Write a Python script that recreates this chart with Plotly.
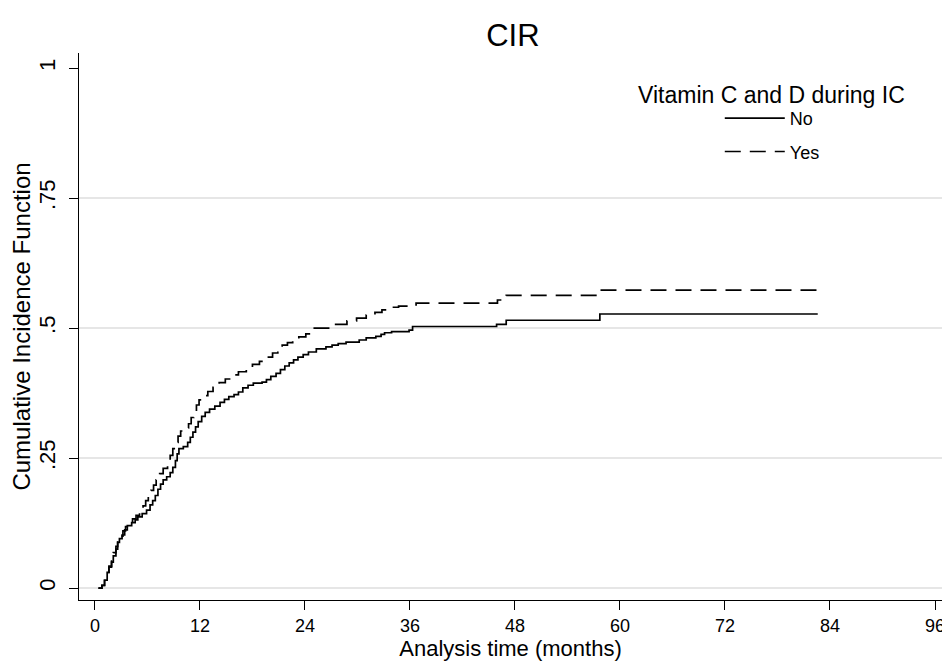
import plotly.graph_objects as go

# ---- data ----
no_time = [0.4, 0.8, 1.1, 1.4, 1.6, 1.9, 2.1, 2.4, 2.6, 2.8, 3.1, 3.4, 3.7, 4.2, 4.6, 4.9,
           5.4, 5.9, 6.3, 6.6, 6.9, 7.2, 7.5, 7.8, 8.2, 8.6, 8.9, 9.2, 9.4, 9.6, 10.1,
           10.6, 10.9, 11.2, 11.5, 11.8, 12.2, 12.6, 13.1, 13.7, 14.3, 14.8, 15.3, 15.9,
           16.4, 16.9, 17.5, 18.1, 19.1, 19.6, 20.1, 20.7, 21.2, 21.7, 22.2, 22.7, 23.2,
           23.8, 24.4, 25.3, 26.4, 27.1, 27.8, 28.7, 30.2, 31.0, 32.1, 32.7, 33.1, 33.9,
           35.9, 36.3, 45.9, 47.0, 57.7, 82.6]
no_cif = [0.0, 0.005, 0.015, 0.03, 0.04, 0.05, 0.062, 0.075, 0.088, 0.095, 0.102, 0.112,
          0.12, 0.126, 0.131, 0.137, 0.143, 0.15, 0.16, 0.168, 0.178, 0.19, 0.2, 0.208,
          0.214, 0.222, 0.232, 0.245, 0.258, 0.268, 0.272, 0.28, 0.29, 0.3, 0.31, 0.32,
          0.33, 0.338, 0.344, 0.35, 0.357, 0.363, 0.368, 0.372, 0.377, 0.385, 0.39, 0.394,
          0.396, 0.401, 0.407, 0.413, 0.42, 0.427, 0.433, 0.439, 0.444, 0.449, 0.454,
          0.46, 0.464, 0.467, 0.47, 0.473, 0.477, 0.481, 0.484, 0.488, 0.491, 0.493,
          0.496, 0.503, 0.507, 0.515, 0.527, 0.527]

yes_time = [0.4, 0.8, 1.1, 1.4, 1.6, 1.9, 2.1, 2.4, 2.6, 2.9, 3.2, 3.5, 3.8, 4.3, 4.7, 5.1,
            5.5, 5.8, 6.1, 6.4, 6.7, 7.0, 7.4, 7.8, 8.3, 8.6, 8.9, 9.2, 9.5, 9.8, 10.3,
            10.7, 11.0, 11.3, 11.6, 11.9, 12.4, 12.9, 13.5, 14.2, 14.9, 15.6, 16.4, 17.3,
            18.0, 18.8, 19.6, 20.3, 20.9, 21.4, 22.0, 22.6, 23.3, 24.1, 24.8, 26.8, 28.8,
            29.9, 31.0, 32.0, 32.8, 33.6, 34.7, 36.7, 46.0, 47.0, 57.7, 82.6]
yes_cif = [0.0, 0.005, 0.015, 0.03, 0.042, 0.055, 0.068, 0.08, 0.092, 0.1, 0.11, 0.118,
           0.125, 0.133, 0.14, 0.148, 0.158, 0.168, 0.178, 0.188, 0.198, 0.208, 0.22,
           0.23, 0.242, 0.255, 0.268, 0.28, 0.292, 0.302, 0.308, 0.316, 0.328, 0.34,
           0.352, 0.362, 0.37, 0.378, 0.386, 0.395, 0.402, 0.41, 0.416, 0.424, 0.43,
           0.436, 0.444, 0.452, 0.46, 0.467, 0.472, 0.477, 0.483, 0.489, 0.5, 0.507,
           0.514, 0.519, 0.525, 0.53, 0.535, 0.54, 0.542, 0.548, 0.554, 0.563, 0.573,
           0.573]

x_ticks = [0, 12, 24, 36, 48, 60, 72, 84, 96]
y_ticks = [0, 0.25, 0.5, 0.75, 1]
y_tick_labels = ["0", ".25", ".5", ".75", "1"]
grid_vals = [0, 0.25, 0.5, 0.75]

FONT = "Liberation Sans, Arial, Helvetica, sans-serif"

fig = go.Figure()
fig.add_trace(go.Scatter(x=no_time, y=no_cif, mode="lines", name="No", legendgroup="no",
                         line=dict(color="black", width=1.7, shape="hv")))
fig.add_trace(go.Scatter(x=yes_time, y=yes_cif, mode="lines", name="Yes", legendgroup="yes",
                         line=dict(color="black", width=1.7, shape="hv", dash="16px,9px")))

fig.update_layout(
    width=942, height=654,
    margin=dict(l=71, r=5, t=45, b=62),
    paper_bgcolor="white", plot_bgcolor="white",
    font=dict(family=FONT, color="black"),
    title=dict(text="CIR", x=0.536, xanchor="center", y=0.9587, yanchor="middle",
               font=dict(size=31, family=FONT, color="black")),
    legend=dict(
        font=dict(size=18, family=FONT),
        x=0.7425, xanchor="left", y=0.9143, yanchor="top",
        bgcolor="rgba(0,0,0,0)", tracegroupgap=7, itemwidth=60,
    ),
    annotations=[dict(text="Vitamin C and D during IC", x=0.8025, y=0.9232,
                      xref="paper", yref="paper", xanchor="center", yanchor="middle",
                      showarrow=False, font=dict(size=23, family=FONT, color="black"))],
    xaxis=dict(
        range=[-1.82, 96.8], tickvals=x_ticks, ticks="outside", ticklen=9,
        tickwidth=1.2, tickcolor="black", showline=True, linecolor="black",
        linewidth=1.3, showgrid=False, zeroline=False,
        tickfont=dict(size=18, family=FONT), ticklabelstandoff=0,
        title=dict(text="Analysis time (months)", font=dict(size=22, family=FONT), standoff=0),
    ),
    yaxis=dict(
        range=[-0.023, 1.029], tickvals=y_ticks, ticktext=y_tick_labels,
        tickangle=-90, ticks="outside", ticklen=9, tickwidth=1.2, tickcolor="black",
        showline=True, linecolor="black", linewidth=1.3, showgrid=False,
        zeroline=False, tickfont=dict(size=22, family=FONT), ticklabelstandoff=5,
        minor=dict(tickvals=grid_vals, showgrid=True, gridcolor="#e6e6e6",
                   gridwidth=1.5, ticks=""),
        title=dict(text="Cumulative Incidence Function", font=dict(size=24, family=FONT),
                   standoff=3),
    ),
)

fig.write_html("out.html")
